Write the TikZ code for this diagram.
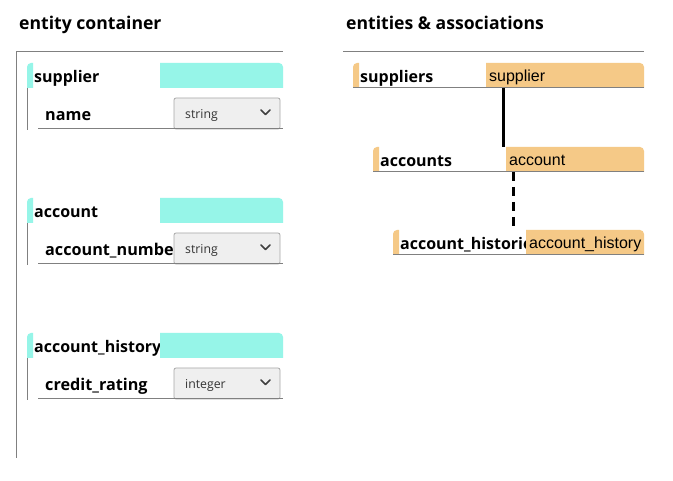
\documentclass[tikz,border=0pt]{standalone}
\usepackage{fontspec}
\setmainfont{Open Sans}
\newfontfamily\arialf{Liberation Sans}
\definecolor{cyanb}{HTML}{96F5E8}
\definecolor{orangeb}{HTML}{F5C987}
\definecolor{ddfill}{HTML}{EFEFEF}
\definecolor{ddline}{HTML}{A8A8A8}
\definecolor{rulec}{HTML}{808080}
\tikzset{
  titletext/.style={inner sep=0pt,anchor=base west,font=\fontsize{17.6}{20}\selectfont\bfseries},
  headtext/.style={inner sep=0pt,anchor=base west,font=\fontsize{16}{18}\selectfont\bfseries},
  fieldtext/.style={inner sep=0pt,anchor=base west,font=\fontsize{16.2}{18}\selectfont\bfseries},
  typetext/.style={inner sep=0pt,anchor=base west,font=\fontsize{12.3}{14}\selectfont,text=black!80},
  blocktext/.style={inner sep=0pt,anchor=base west,font=\arialf\fontsize{16}{18}\selectfont},
  ruleline/.style={draw=rulec,line width=1pt},
  ddbox/.style={draw=ddline,fill=ddfill,rounded corners=2pt,line width=0.8pt},
  chev/.style={draw=black!75,line width=1.5pt,line cap=round,line join=round},
  conn/.style={line width=3pt,draw=black},
}
\newcommand{\entL}[5]{% id, Y, name, field, type
  \fill[cyanb] (27,#2+25) [rounded corners=4pt] -- (27,#2) [sharp corners] -- (33,#2) -- (33,#2+25) -- cycle;
  \node[headtext] (#1h) at (34,#2+20) {#3};
  \fill[cyanb] (160,#2) [rounded corners=4pt] -- (283,#2) [sharp corners] -- (283,#2+25) -- (160,#2+25) -- cycle;
  \draw[ruleline] (27,#2+25) -- (27,#2+67);
  \node[fieldtext] (#1f) at (45,#2+58) {#4};
  \draw[ddbox] (174,#2+35) rectangle (280,#2+66);
  \node[typetext] (#1t) at (185,#2+55.5) {#5};
  \draw[chev] (261,#2+47) -- (265.5,#2+51.5) -- (270,#2+47);
  \draw[ruleline] (38,#2+66) -- (283,#2+66);
}
\newcommand{\entR}[6]{% id, Y, X, B, name, type
  \fill[orangeb] (#3,#2+25) [rounded corners=4pt] -- (#3,#2) [sharp corners] -- (#3+6,#2) -- (#3+6,#2+25) -- cycle;
  \node[headtext] (#1h) at (#3+7,#2+20) {#5};
  \fill[orangeb] (#4,#2) [rounded corners=4pt] -- (644,#2) [sharp corners] -- (644,#2+25) -- (#4,#2+25) -- cycle;
  \node[blocktext] (#1b) at (#4+3,#2+18.5) {#6};
  \draw[ruleline] (#3,#2+25) -- (644,#2+25);
}
\begin{document}
\begin{tikzpicture}[x=1pt,y=-1pt]
\useasboundingbox[fill=white] (0,0) rectangle (673,481);
\node[titletext] (t1) at (19,30) {entity container};
\node[titletext] (t2) at (346,30) {entities \& associations};
\draw[ruleline] (16,458) -- (16,52) -- (283,52);
\draw[ruleline] (343,52) -- (644,52);
\entL{a}{63}{supplier}{name}{string}
\entL{b}{198}{account}{account\_number}{string}
\entL{c}{333}{account\_history}{credit\_rating}{integer}
\entR{r1}{63}{353}{486}{suppliers}{supplier}
\entR{r2}{147}{373}{506}{accounts}{account}
\entR{r3}{230}{393}{526}{account\_histories}{account\_history}
\coordinate (c1a) at (503,88);
\coordinate (c1b) at (503,147);
\coordinate (c2a) at (513,172);
\coordinate (c2b) at (513,230);
\draw[conn] (c1a) -- (c1b);
\draw[conn,dash pattern=on 9pt off 6pt] (c2a) -- (c2b);
\end{tikzpicture}
\end{document}
